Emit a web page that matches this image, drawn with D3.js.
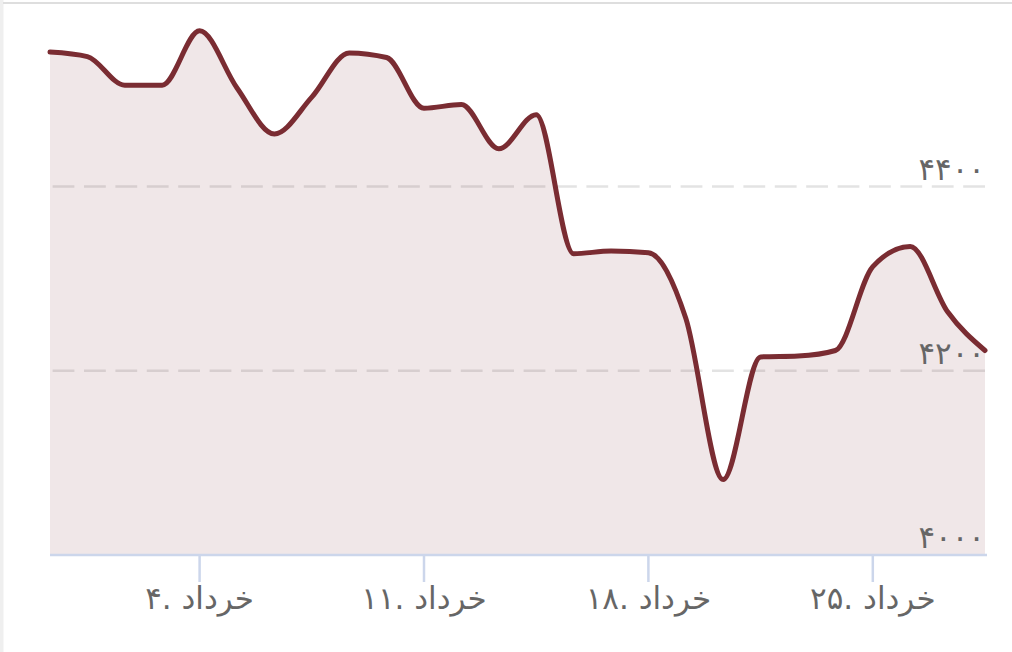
<!DOCTYPE html>
<html>
<head>
<meta charset="utf-8">
<script src="https://cdn.jsdelivr.net/npm/d3@7"></script>
<style>
  body { margin: 0; background: #fff; }
  svg { display: block; }
</style>
</head>
<body>
<svg id="chart" width="1012" height="652"></svg>
<script>
// trading days of the window (Fridays are skipped)
const days = ['۳۱ اردیبهشت', '۱', '۲', '۳', '۴', '۵', '۶', '۸', '۹', '۱۰', '۱۱', '۱۲', '۱۳',
    '۱۵', '۱۶', '۱۷', '۱۸', '۱۹', '۲۰', '۲۲', '۲۳', '۲۴', '۲۵', '۲۶', '۲۷', '۲۹']
const values = [4546, 4541, 4510, 4510, 4569, 4507, 4457, 4497, 4545, 4540, 4485, 4489, 4441,
    4478, 4327, 4330, 4328, 4257, 4082, 4215, 4216, 4222, 4313, 4335, 4264, 4222]

const xTickIndex = [4, 10, 16, 22]
const xTickLabels = ['۴', '۱۱', '۱۸', '۲۵']
const monthName = 'خرداد'
const yTicks = [4000, 4200, 4400]

const lineColor = '#7a2c32'
const axisColor = '#ccd6eb'
const size = { left: 50, right: 986, top: 0, bottom: 555 }

const toFa = s => String(s).replace(/[0-9]/g, d => '۰۱۲۳۴۵۶۷۸۹'[d])

const data = values.map((v, i) => ({ index: i, day: days[i], value: v }))

const svg = d3.select('#chart')

const xScale = d3.scaleLinear().domain([0, values.length - 1]).range([size.left, size.right - 1])
const yScale = d3.scaleLinear().domain([4000, 4400]).range([size.bottom, 186.5])

drawFrame(svg)
drawGrid(svg, yScale)
drawArea(svg, data, xScale, yScale)
drawXAxis(svg, xScale)
drawYLabels(svg, yScale)

function drawFrame(svg) {
    svg.append('rect')
        .attr('x', 0).attr('y', 0)
        .attr('width', 3.5).attr('height', 652)
        .attr('fill', '#efefef')

    svg.append('line')
        .attr('x1', 3).attr('x2', 1012)
        .attr('y1', 3).attr('y2', 3)
        .attr('stroke', '#dedede')
        .attr('stroke-width', 2)
}

function drawGrid(svg, yScale) {
    // dashes run from the right edge towards the left
    svg.append('g').attr('class', 'grid')
        .selectAll('line')
        .data(yTicks.filter(t => t > 4000))
        .enter()
        .append('line')
        .attr('x1', size.right - 1)
        .attr('x2', size.left)
        .attr('y1', d => yScale(d))
        .attr('y2', d => yScale(d))
        .attr('stroke', '#e3e3e3')
        .attr('stroke-width', 2.5)
        .attr('stroke-dasharray', '21.8,9.6')
}

function drawArea(svg, data, xScale, yScale) {
    const area = d3.area()
        .x(d => xScale(d.index))
        .y0(yScale(4000))
        .y1(d => yScale(d.value))
        .curve(d3.curveMonotoneX)

    const line = d3.line()
        .x(d => xScale(d.index))
        .y(d => yScale(d.value))
        .curve(d3.curveMonotoneX)

    svg.append('path')
        .datum(data)
        .attr('d', area)
        .attr('fill', lineColor)
        .attr('fill-opacity', 0.112)

    svg.append('path')
        .datum(data)
        .attr('d', line)
        .attr('fill', 'none')
        .attr('stroke', lineColor)
        .attr('stroke-width', 5)
        .attr('stroke-linejoin', 'round')
        .attr('stroke-linecap', 'round')
}

function drawXAxis(svg, xScale) {
    const axis = svg.append('g').attr('class', 'x axis')

    axis.append('line')
        .attr('x1', size.left).attr('x2', size.right + 1)
        .attr('y1', size.bottom).attr('y2', size.bottom)
        .attr('stroke', axisColor)
        .attr('stroke-width', 2.5)

    const ticks = axis.selectAll('g.tick')
        .data(xTickIndex)
        .enter()
        .append('g')
        .attr('class', 'tick')
        .attr('transform', d => 'translate(' + xScale(d) + ',0)')

    ticks.append('line')
        .attr('y1', size.bottom).attr('y2', size.bottom + 27)
        .attr('stroke', axisColor)
        .attr('stroke-width', 2.5)

    ticks.append('text')
        .text((d, i) => monthName + ' .' + xTickLabels[i])
        .attr('y', 609)
        .attr('text-anchor', 'middle')
        .attr('font-family', 'DejaVu Sans, sans-serif')
        .attr('font-size', 31)
        .attr('fill', '#666')
}

function drawYLabels(svg, yScale) {
    svg.append('g').attr('class', 'y axis')
        .selectAll('text')
        .data(yTicks)
        .enter()
        .append('text')
        .text(d => toFa(d))
        .attr('x', size.right - 1)
        .attr('y', d => yScale(d) - 7)
        .attr('text-anchor', 'end')
        .attr('font-family', 'DejaVu Sans, sans-serif')
        .attr('font-size', 31)
        .attr('fill', '#666')
}
</script>
</body>
</html>
